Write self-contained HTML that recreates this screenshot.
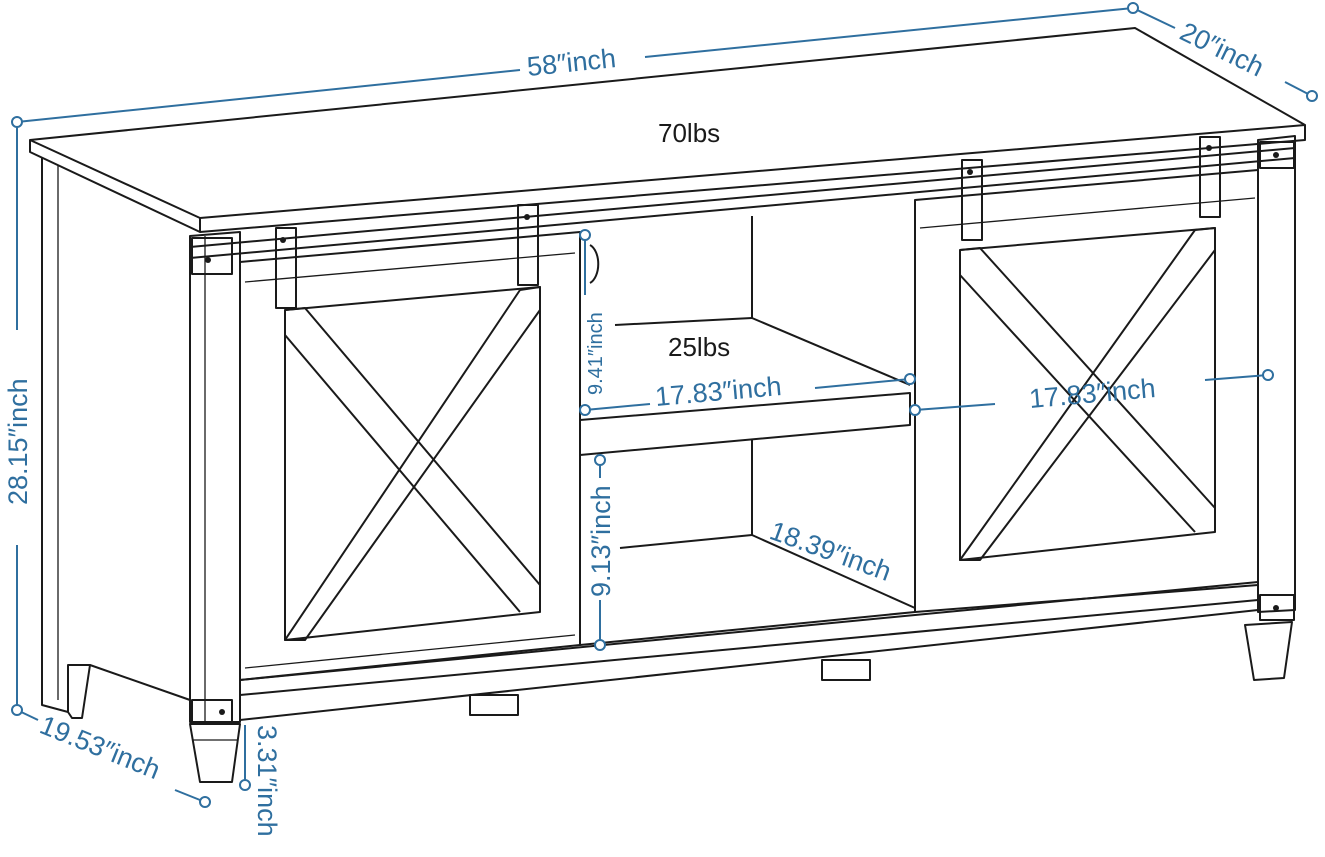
<!DOCTYPE html>
<html><head><meta charset="utf-8"><style>
html,body{margin:0;padding:0;background:#fff;width:1325px;height:857px;overflow:hidden}
svg{display:block}
.k{fill:none;stroke:#1a1a1a;stroke-width:2;stroke-linejoin:round}
.t{fill:none;stroke:#1a1a1a;stroke-width:1.3}
.b{fill:none;stroke:#2f6f9f;stroke-width:2}
.c{fill:#fff;stroke:#2f6f9f;stroke-width:2}
.bt{fill:#2f6f9f;font-family:"Liberation Sans",sans-serif;font-size:27px}
.kt{fill:#1a1a1a;font-family:"Liberation Sans",sans-serif;font-size:26px}
</style></head><body>
<svg width="1325" height="857" viewBox="0 0 1325 857">
<!-- top -->
<polygon class="k" points="30,140 1135,28 1305,125 200,218"/>
<polyline class="k" points="30,140 30,152 200,232 1305,140 1305,125"/>
<line class="k" x1="200" y1="218" x2="200" y2="232"/>
<!-- left side panel -->
<polyline class="k" points="42,158 42,705 68,712"/>
<polyline class="k" points="68,712 68,665 90,665 190,700"/>
<polyline class="t" points="58,165 58,700"/>
<polyline class="k" points="68,712 72,718 82,718 90,665"/>
<!-- left post -->
<polygon class="k" points="190,236 240,232 240,722 190,722"/>
<line class="t" x1="205" y1="236" x2="205" y2="722"/>
<!-- front left leg -->
<polygon class="k" points="190,724 240,724 232,782 200,782"/>
<line class="t" x1="193" y1="740" x2="237" y2="740"/>
<!-- rail -->
<line class="k" x1="190" y1="247" x2="1295" y2="148"/>
<line class="k" x1="190" y1="258" x2="1295" y2="158"/>
<!-- bottom rail -->
<polyline class="k" points="240,680 1258,582"/>
<polyline class="k" points="240,695 1258,600"/>
<polyline class="k" points="240,720 1258,610"/>
<!-- left door -->
<polygon class="k" points="240,262 580,232 580,645 240,680"/>
<polygon class="k" points="285,310 540,287 540,612 285,640"/>
<line class="t" x1="245" y1="282" x2="575" y2="253"/>
<line class="t" x1="245" y1="668" x2="575" y2="635"/>
<polyline class="k" points="285,310 305,308 540,585"/>
<polyline class="k" points="285,335 520,612"/>
<polyline class="k" points="520,290 540,287 540,310 305,640 285,640 520,290"/>
<!-- left door hangers -->
<rect class="k" x="276" y="228" width="20" height="80"/>
<rect class="k" x="518" y="205" width="20" height="80"/>
<rect class="k" x="192" y="238" width="40" height="36"/>
<circle cx="283" cy="240" r="3" fill="#1a1a1a"/><circle cx="527" cy="217" r="3" fill="#1a1a1a"/>
<circle cx="208" cy="260" r="3" fill="#1a1a1a"/><circle cx="222" cy="712" r="3" fill="#1a1a1a"/>
<rect class="k" x="192" y="700" width="40" height="22"/>
<!-- middle -->
<line class="k" x1="580" y1="232" x2="580" y2="645"/>
<line class="k" x1="752" y1="216" x2="752" y2="318"/>
<line class="k" x1="615" y1="325" x2="752" y2="318"/>
<line class="k" x1="752" y1="318" x2="910" y2="385"/>
<polygon class="k" points="580,420 910,393 910,425 580,455"/>
<line class="k" x1="752" y1="440" x2="752" y2="535"/>
<line class="k" x1="620" y1="548" x2="752" y2="535"/>
<line class="k" x1="752" y1="535" x2="915" y2="608"/>
<line class="k" x1="580" y1="645" x2="915" y2="612"/>
<path class="k" d="M590,245 a12,20 0 0 1 0,38"/>
<!-- right door -->
<polygon class="k" points="915,200 1258,170 1258,585 915,612"/>
<polygon class="k" points="960,250 1215,228 1215,532 960,560"/>
<line class="t" x1="920" y1="228" x2="1255" y2="198"/>
<polyline class="k" points="960,250 980,248 1215,508"/>
<polyline class="k" points="960,275 1195,532"/>
<polyline class="k" points="1195,230 1215,228 1215,250 980,560 960,560 1195,230"/>
<rect class="k" x="962" y="160" width="20" height="80"/>
<rect class="k" x="1200" y="137" width="20" height="80"/>
<circle cx="970" cy="172" r="3" fill="#1a1a1a"/><circle cx="1209" cy="148" r="3" fill="#1a1a1a"/>
<!-- right post and leg -->
<polygon class="k" points="1258,140 1295,136 1295,610 1258,612"/>
<rect class="k" x="1260" y="142" width="34" height="26"/>
<rect class="k" x="1260" y="595" width="34" height="25"/>
<circle cx="1276" cy="155" r="3" fill="#1a1a1a"/><circle cx="1276" cy="608" r="3" fill="#1a1a1a"/>
<polygon class="k" points="1245,625 1292,622 1284,678 1254,680"/>
<!-- back feet -->
<rect class="k" x="470" y="695" width="48" height="20"/>
<rect class="k" x="822" y="660" width="48" height="20"/>
<!-- text -->
<text class="kt" x="658" y="142">70lbs</text>
<text class="kt" x="668" y="356">25lbs</text>
<!-- dims -->
<line class="b" x1="17" y1="122" x2="520" y2="70"/>
<line class="b" x1="645" y1="57" x2="1133" y2="8"/>
<text class="bt" transform="translate(528,76) rotate(-5.8)">58″inch</text>
<line class="b" x1="1133" y1="8" x2="1175" y2="28"/>
<line class="b" x1="1285" y1="82" x2="1312" y2="96"/>
<text class="bt" transform="translate(1178,38) rotate(26)">20″inch</text>
<line class="b" x1="17" y1="122" x2="17" y2="330"/>
<line class="b" x1="17" y1="545" x2="17" y2="710"/>
<text class="bt" transform="translate(27,505) rotate(-90)">28.15″inch</text>
<line class="b" x1="17" y1="710" x2="38" y2="720"/>
<line class="b" x1="175" y1="790" x2="205" y2="802"/>
<text class="bt" transform="translate(38,732) rotate(22)">19.53″inch</text>
<line class="b" x1="245" y1="725" x2="245" y2="785"/>
<text class="bt" transform="translate(258,725) rotate(90)">3.31″inch</text>
<line class="b" x1="585" y1="235" x2="585" y2="295"/>
<text class="bt" style="font-size:20px" transform="translate(602,395) rotate(-90)">9.41″inch</text>
<line class="b" x1="585" y1="410" x2="650" y2="404"/>
<line class="b" x1="815" y1="388" x2="910" y2="379"/>
<text class="bt" transform="translate(656,406) rotate(-5)">17.83″inch</text>
<line class="b" x1="915" y1="410" x2="995" y2="404"/>
<line class="b" x1="1205" y1="380" x2="1268" y2="375"/>
<text class="bt" transform="translate(1030,408) rotate(-5)">17.83″inch</text>
<line class="b" x1="600" y1="460" x2="600" y2="478"/>
<line class="b" x1="600" y1="600" x2="600" y2="645"/>
<text class="bt" transform="translate(610,597) rotate(-90)">9.13″inch</text>
<text class="bt" transform="translate(768,538) rotate(20)">18.39″inch</text>
<circle class="c" cx="17" cy="122" r="5"/><circle class="c" cx="1133" cy="8" r="5"/>
<circle class="c" cx="1312" cy="96" r="5"/><circle class="c" cx="17" cy="710" r="5"/>
<circle class="c" cx="205" cy="802" r="5"/><circle class="c" cx="245" cy="785" r="5"/>
<circle class="c" cx="585" cy="235" r="5"/><circle class="c" cx="585" cy="410" r="5"/>
<circle class="c" cx="910" cy="379" r="5"/><circle class="c" cx="915" cy="410" r="5"/>
<circle class="c" cx="1268" cy="375" r="5"/><circle class="c" cx="600" cy="460" r="5"/>
<circle class="c" cx="600" cy="645" r="5"/>
</svg>
</body></html>
